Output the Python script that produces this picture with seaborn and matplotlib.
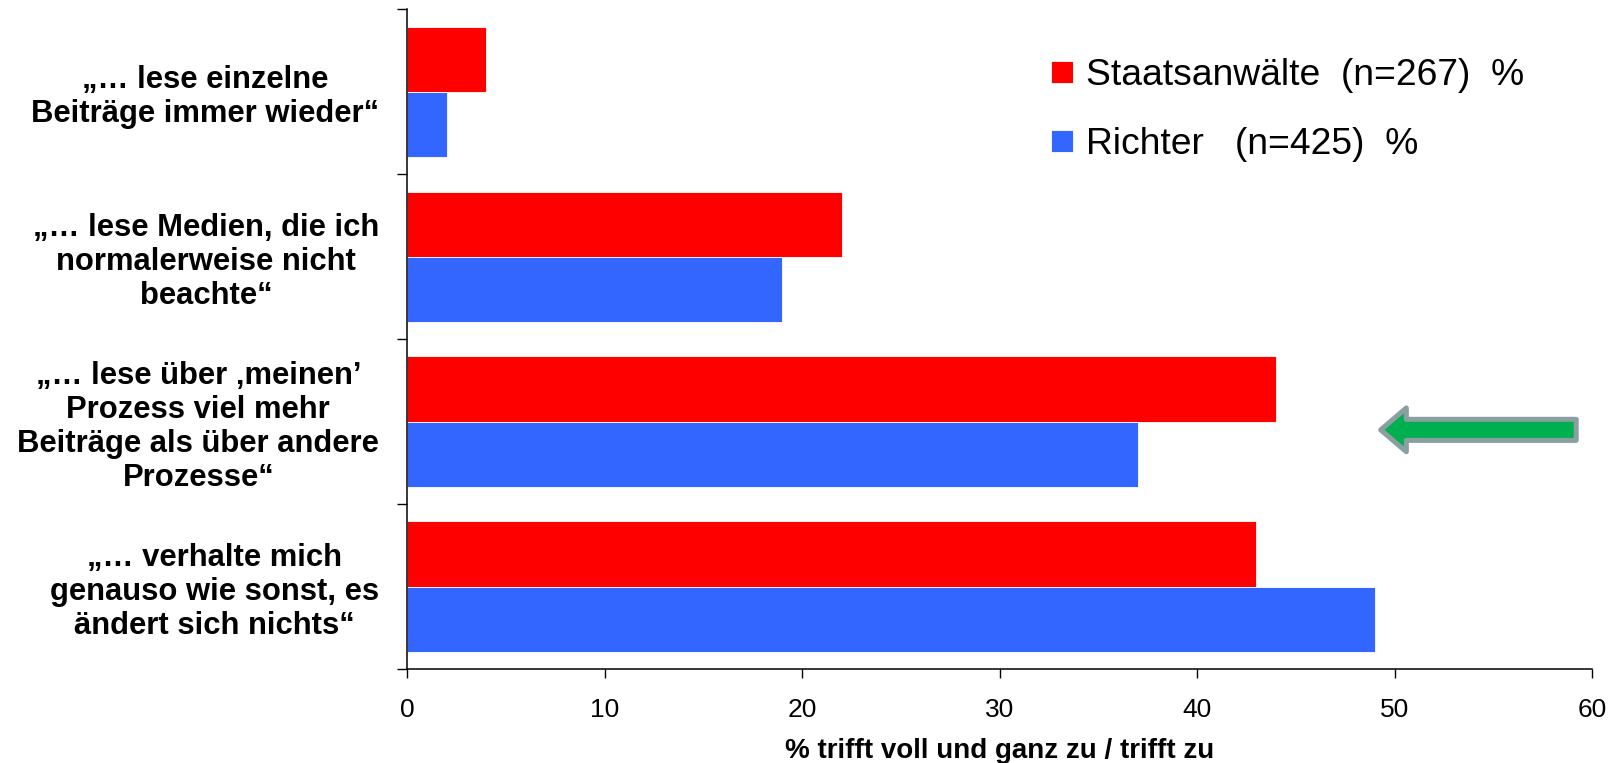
import numpy as np
import pandas as pd
import matplotlib
matplotlib.use("Agg")
import matplotlib.pyplot as plt
from matplotlib.patches import Polygon
import seaborn as sns

# --- data -------------------------------------------------------------
statements = [
    "„… lese einzelne\nBeiträge immer wieder“",
    "„… lese Medien, die ich\nnormalerweise nicht\nbeachte“",
    "„… lese über ‚meinen’\nProzess viel mehr\nBeiträge als über andere\nProzesse“",
    "„… verhalte mich\ngenauso wie sonst, es\nändert sich nichts“",
]
groups = ["Staatsanwälte", "Richter"]
legend_labels = ["Staatsanwälte  (n=267)  %", "Richter   (n=425)  %"]
staatsanwaelte = [4, 22, 44, 43]
richter = [2, 19, 37, 49]
x_ticks = [0, 10, 20, 30, 40, 50, 60]
x_label = "% trifft voll und ganz zu / trifft zu"

colors = ["#FF0000", "#3366FF"]

df = pd.DataFrame({
    "Aussage": statements * 2,
    "Gruppe": [groups[0]] * len(statements) + [groups[1]] * len(statements),
    "Prozent": staatsanwaelte + richter,
})

# --- figure -----------------------------------------------------------
sns.set_style("white")
plt.rcParams["font.family"] = ["Liberation Sans", "DejaVu Sans"]
plt.rcParams["text.color"] = "black"
plt.rcParams["xtick.color"] = "black"
plt.rcParams["ytick.color"] = "black"
plt.rcParams["axes.labelcolor"] = "black"

W, H = 1619, 763
fig = plt.figure(figsize=(W / 100, H / 100), dpi=100)
ax = fig.add_axes([407 / W, 1 - 669 / H, (1592 - 407) / W, (669 - 9.3) / H])

sns.barplot(
    data=df, y="Aussage", x="Prozent", hue="Gruppe",
    hue_order=groups, order=statements, palette=colors,
    orient="h", width=0.79, saturation=1, ax=ax,
    edgecolor="white", linewidth=0.6,
)

ax.set_xlim(0, 60)
ax.set_ylim(len(statements) - 0.5, -0.5)

# x axis
ax.set_xticks(x_ticks)
ax.set_xticklabels([str(t) for t in x_ticks], fontsize=19)
ax.tick_params(axis="x", direction="out", length=6.5, width=1.0,
               color="black", pad=14.5, bottom=True)
ax.set_xlabel(x_label, fontsize=20, fontweight="bold")
ax.xaxis.label.set_verticalalignment("baseline")
ax.xaxis.set_label_coords(0.5, (669 - 757.5) / (669 - 9.3))

# y axis: ticks at the category boundaries, labels centred in each band
ax.set_yticks(np.arange(-0.5, len(statements), 1.0))
ax.set_yticklabels([])
ax.set_yticks(np.arange(len(statements)), minor=True)
ax.set_yticklabels(statements, minor=True, fontsize=22.3, fontweight="bold")
for lab in ax.get_yticklabels(minor=True):
    lab.set_multialignment("center")
    lab.set_linespacing(1.18)
ax.tick_params(axis="y", which="major", direction="out", length=7.2,
               width=1.0, color="black", left=True)
ax.tick_params(axis="y", which="minor", length=0, pad=20)
ax.set_ylabel("")

for side in ("top", "right"):
    ax.spines[side].set_visible(False)
for side in ("left", "bottom"):
    ax.spines[side].set_color("black")
    ax.spines[side].set_linewidth(1.1)

# legend
handles, _ = ax.get_legend_handles_labels()
ax.legend(
    handles, legend_labels, loc="upper left",
    bbox_to_anchor=(1051 / W, 1 - 58 / H), bbox_transform=fig.transFigure,
    frameon=False, fontsize=26.8, handlelength=0.58, handleheight=0.53,
    handletextpad=0.36, labelspacing=0.92, borderpad=0, borderaxespad=0,
)

# highlight arrow pointing at the third statement
yc, hs, hh = 2.05, 0.064, 0.133
x_tip, x_back, x_tail = 49.3, 50.6, 59.2
arrow = Polygon(
    [(x_tip, yc), (x_back, yc - hh), (x_back, yc - hs), (x_tail, yc - hs),
     (x_tail, yc + hs), (x_back, yc + hs), (x_back, yc + hh)],
    closed=True, facecolor="#00B050", edgecolor="#8C9FA0",
    linewidth=3.6, joinstyle="round", clip_on=False, zorder=5,
)
ax.add_patch(arrow)

fig.savefig("out.png", dpi=100)
